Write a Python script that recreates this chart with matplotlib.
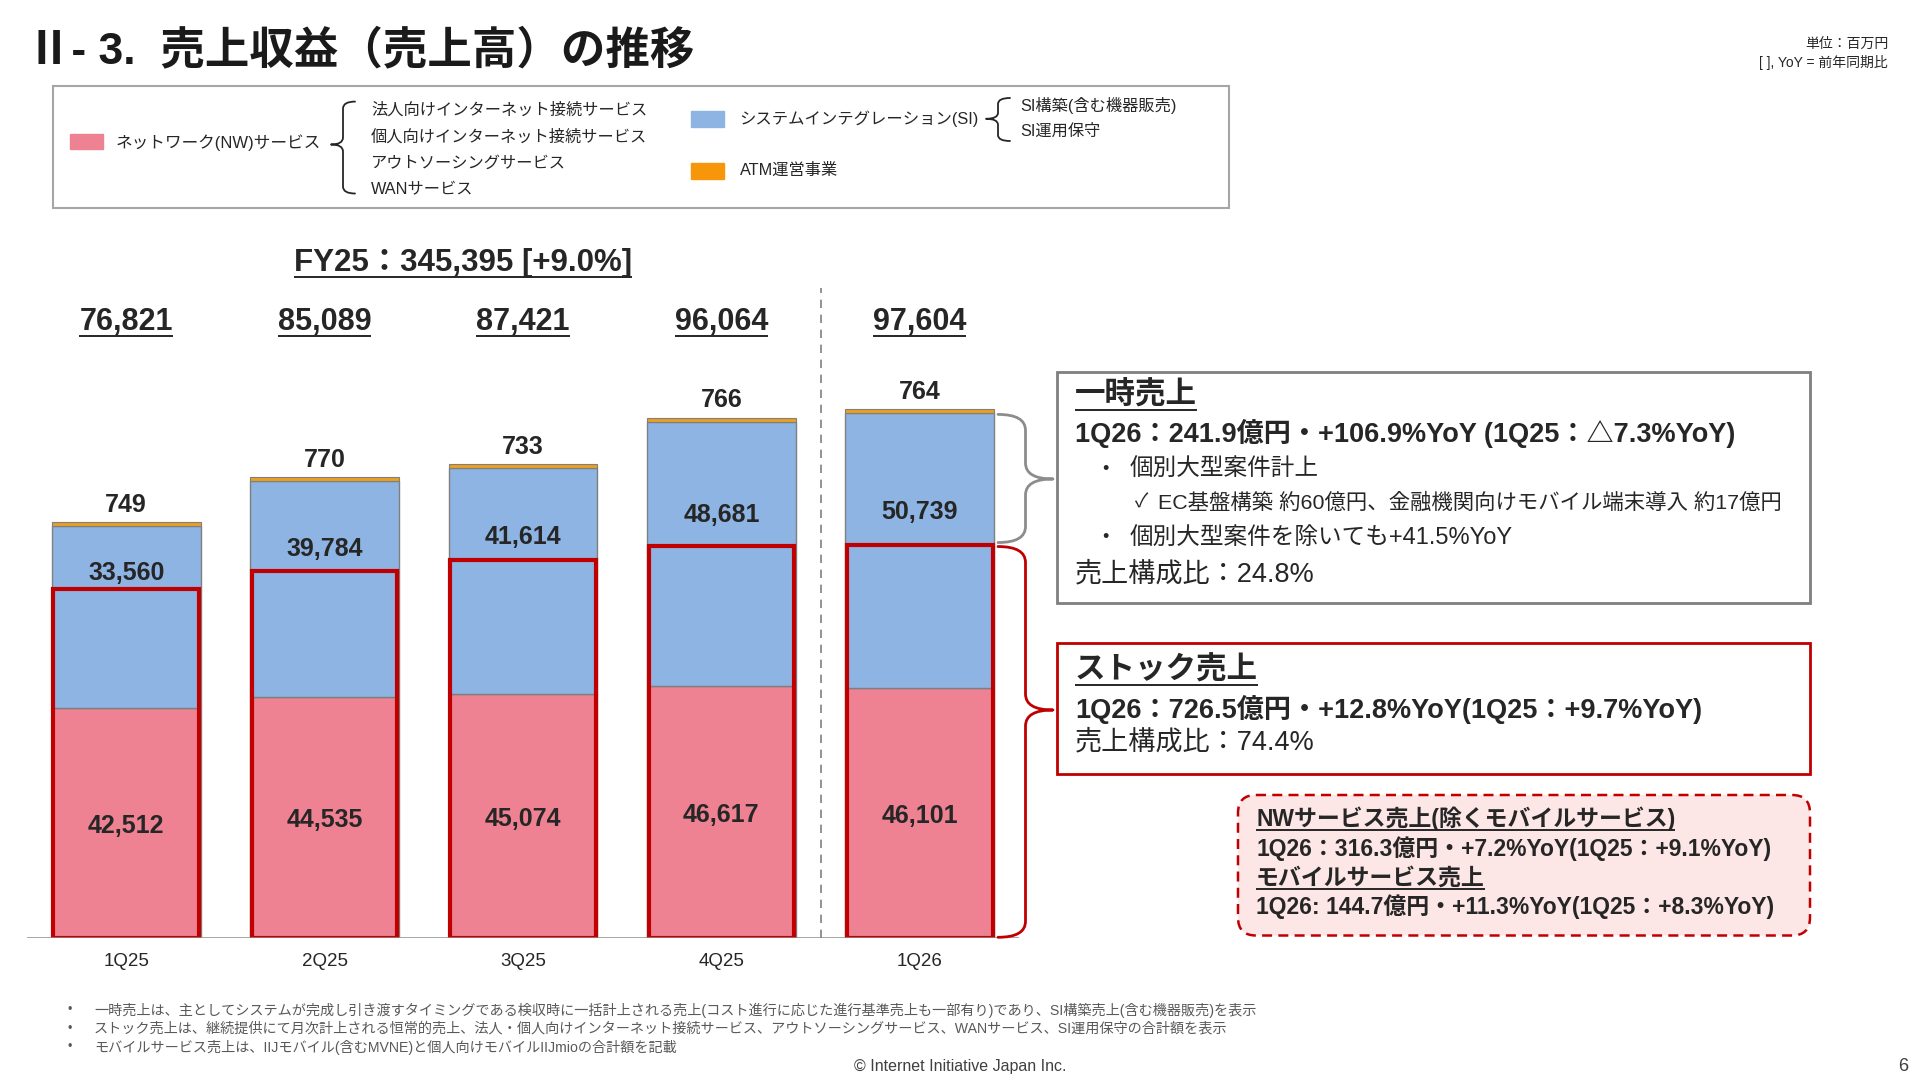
import matplotlib
matplotlib.use('Agg')
import matplotlib.pyplot as plt
from matplotlib.patches import Rectangle, FancyBboxPatch, PathPatch
from matplotlib.path import Path
from matplotlib.transforms import blended_transform_factory

plt.rcParams['font.family'] = ['Liberation Sans', 'Noto Sans CJK JP', 'DejaVu Sans']

# ---------------- data ----------------
quarters = ['1Q25', '2Q25', '3Q25', '4Q25', '1Q26']
nw = [42512, 44535, 45074, 46617, 46101]
si = [33560, 39784, 41614, 48681, 50739]
atm = [749, 770, 733, 766, 764]
totals = [76821, 85089, 87421, 96064, 97604]
stock = [64400, 67700, 69800, 72450, 72650]   # red-framed stock revenue
fy25_label = 'FY25：345,395 [+9.0%]'

title = 'Ⅱ- 3.  売上収益（売上高）の推移'
unit_lines = ['単位：百万円', '[ ], YoY = 前年同期比']
nw_legend = 'ネットワーク(NW)サービス'
nw_items = ['法人向けインターネット接続サービス', '個人向けインターネット接続サービス',
            'アウトソーシングサービス', 'WANサービス']
si_legend = 'システムインテグレーション(SI)'
si_items = ['SI構築(含む機器販売)', 'SI運用保守']
atm_legend = 'ATM運営事業'

box1_title = '一時売上'
box1_main = '1Q26：241.9億円・+106.9%YoY (1Q25：△7.3%YoY)'
box1_b1 = '個別大型案件計上'
box1_check = 'EC基盤構築 約60億円、金融機関向けモバイル端末導入 約17億円'
box1_b2 = '個別大型案件を除いても+41.5%YoY'
box1_ratio = '売上構成比：24.8%'

box2_title = 'ストック売上'
box2_main = '1Q26：726.5億円・+12.8%YoY(1Q25：+9.7%YoY)'
box2_ratio = '売上構成比：74.4%'

box3_lines = ['NWサービス売上(除くモバイルサービス)',
              '1Q26：316.3億円・+7.2%YoY(1Q25：+9.1%YoY)',
              'モバイルサービス売上',
              '1Q26: 144.7億円・+11.3%YoY(1Q25：+8.3%YoY)']

footnotes = ['一時売上は、主としてシステムが完成し引き渡すタイミングである検収時に一括計上される売上(コスト進行に応じた進行基準売上も一部有り)であり、SI構築売上(含む機器販売)を表示',
             'ストック売上は、継続提供にて月次計上される恒常的売上、法人・個人向けインターネット接続サービス、アウトソーシングサービス、WANサービス、SI運用保守の合計額を表示',
             'モバイルサービス売上は、IIJモバイル(含むMVNE)と個人向けモバイルIIJmioの合計額を記載']
copyright_txt = '© Internet Initiative Japan Inc.'
page_no = '6'

# ---------------- style ----------------
PINK = '#EE8293'
BLUE = '#8EB4E3'
ORANGE_BAR = '#EBA020'
ORANGE = '#F7960B'
EDGE = '#7F7F7F'
RED = '#C00000'
TXT = '#262626'

W, H = 1920, 1081
fig = plt.figure(figsize=(19.2, 10.81), dpi=100)

ax_left, ax_right, ax_top, ax_bot = 27, 1019, 250, 938.3
units_per_px = 184.5
ax = fig.add_axes([ax_left / W, 1 - ax_bot / H, (ax_right - ax_left) / W, (ax_bot - ax_top) / H])
ax.set_xlim(-0.5, 4.5)
ax.set_ylim(0, (ax_bot - ax_top) * units_per_px)
ax.axis('off')

ov = fig.add_axes([0, 0, 1, 1], zorder=5)
ov.set_xlim(0, W)
ov.set_ylim(H, 0)
ov.axis('off')

underlines = []


def otext(x, y, s, size, bold=False, color=TXT, ha='left', va='center', underline=False, **kw):
    t = ov.text(x, y, s, fontsize=size, fontweight='bold' if bold else 'normal',
                color=color, ha=ha, va=va, **kw)
    if underline:
        underlines.append((t, color))
    return t


# ---------------- bars ----------------
xs = list(range(len(quarters)))
bw = 0.75
ax.bar(xs, nw, bw, color=PINK, edgecolor=EDGE, linewidth=1, zorder=2)
ax.bar(xs, si, bw, bottom=nw, color=BLUE, edgecolor=EDGE, linewidth=1, zorder=2)
bot2 = [a + b for a, b in zip(nw, si)]
ax.bar(xs, atm, bw, bottom=bot2, color=ORANGE_BAR, edgecolor=EDGE, linewidth=0.8, zorder=2)

for i in xs:
    ax.add_patch(Rectangle((i - bw / 2 + 0.008, 0), bw - 0.016, stock[i], fill=False,
                           edgecolor=RED, linewidth=3.0, zorder=3))

ax.axhline(0, color='#8C8C8C', linewidth=1.8, zorder=4)
ax.plot([3.5, 3.5], [0, (ax_bot - 288) * units_per_px], ls=(0, (5, 4)), color='#808080',
        linewidth=1.2, zorder=1)

tr_tot = blended_transform_factory(ax.transData, ax.transAxes)
for i in xs:
    t = ax.text(i, (ax_bot - 322) / (ax_bot - ax_top), f'{totals[i]:,}', transform=tr_tot,
                ha='center', va='center', fontsize=22, fontweight='bold', color=TXT)
    underlines.append((t, TXT))
    ax.annotate(f'{nw[i]:,}', xy=(i, nw[i] / 2), xytext=(0, -2), textcoords='offset points',
                ha='center', va='center', fontsize=18, fontweight='bold', color=TXT, zorder=5)
    ax.text(i, stock[i] + 0.25 * (bot2[i] - stock[i]), f'{si[i]:,}', ha='center', va='center',
            fontsize=18, fontweight='bold', color=TXT, zorder=5)
    ax.annotate(f'{atm[i]:,}', xy=(i, totals[i]), xytext=(0, 12.5), textcoords='offset points',
                ha='center', va='center', fontsize=18, fontweight='bold', color=TXT)
    ax.annotate(quarters[i], xy=(i, 0), xytext=(0, -16.5), textcoords='offset points',
                ha='center', va='center', fontsize=13.5, color=TXT)

otext(463, 263, fy25_label, 22.5, bold=True, ha='center', underline=True)

# ---------------- title ----------------
otext(27, 51, title, 32, bold=True, color='#1a1a1a')
otext(1888, 44, unit_lines[0], 10, ha='right')
otext(1888, 62.5, unit_lines[1], 10, ha='right')


# ---------------- braces ----------------
def brace(x0, xt, yt, yb, ym, color, lw, r=12):
    xm = (x0 + xt) / 2
    verts = [(x0, yt), (xm, yt), (xm, yt + r),
             (xm, ym - r),
             (xm, ym), (xt, ym),
             (xm, ym), (xm, ym + r),
             (xm, yb - r),
             (xm, yb), (x0, yb)]
    codes = [Path.MOVETO, Path.CURVE3, Path.CURVE3,
             Path.LINETO,
             Path.CURVE3, Path.CURVE3,
             Path.CURVE3, Path.CURVE3,
             Path.LINETO,
             Path.CURVE3, Path.CURVE3]
    ov.add_patch(PathPatch(Path(verts, codes), fill=False, edgecolor=color, linewidth=lw,
                           capstyle='round', joinstyle='round'))


def to_ov(x, y):
    disp = ax.transData.transform((x, y))
    return ov.transData.inverted().transform(disp)


_, y_si_top = to_ov(4, bot2[4])
_, y_stock = to_ov(4, stock[4])
_, y_base = to_ov(4, 0)
brace(998, 1053, y_si_top + 1, y_stock - 2, (y_si_top + y_stock) / 2, '#8C8C8C', 2.0, r=16)
brace(998, 1053, y_stock + 2, y_base - 1, 710, RED, 2.0, r=16)

# ---------------- legend ----------------
ov.add_patch(Rectangle((52.7, 85.7), 1176.3, 122.3, fill=False, edgecolor='#A6A6A6', linewidth=1.5))
ov.add_patch(Rectangle((70, 133.5), 33, 15.5, color=PINK))
otext(116, 143, nw_legend, 12)
brace(355, 331, 101.6, 193.5, 144.5, TXT, 1.3, r=7)
for k, yy in enumerate([110, 137, 163, 190]):
    otext(371, yy, nw_items[k], 11.7)
ov.add_patch(Rectangle((690.6, 111.4), 33, 15.9, color=BLUE))
otext(739.6, 118.8, si_legend, 11.8)
brace(1010, 986, 98, 141, 118.8, TXT, 1.3, r=6)
otext(1020, 105.3, si_items[0], 11.7)
otext(1020, 131, si_items[1], 11.7)
ov.add_patch(Rectangle((690.6, 162.9), 33, 15.9, color=ORANGE))
otext(739.6, 170, atm_legend, 11.7)

# ---------------- right boxes ----------------
ov.add_patch(Rectangle((1056.7, 372), 753, 230.5, fill=False, edgecolor='#7F7F7F', linewidth=2.0))
otext(1075, 395.5, box1_title, 22, bold=True, underline=True)
otext(1075, 433.5, box1_main, 19.5, bold=True)
otext(1105.6, 469, '•', 13, ha='center')
otext(1130, 469, box1_b1, 17)
otext(1135, 503, '✓', 14)
otext(1158, 503, box1_check, 15.4)
otext(1105.6, 537.5, '•', 13, ha='center')
otext(1130, 537.5, box1_b2, 17)
otext(1075, 574, box1_ratio, 19.5)

ov.add_patch(Rectangle((1056.7, 643), 753, 131, fill=False, edgecolor=RED, linewidth=2.0))
otext(1075, 671, box2_title, 22, bold=True, underline=True)
otext(1075, 709, box2_main, 19.5, bold=True)
otext(1075, 742, box2_ratio, 19.5)

ov.add_patch(FancyBboxPatch((1238, 795), 572, 140.5, boxstyle='round,pad=0,rounding_size=18',
                            facecolor='#FCE6E6', edgecolor=RED, linewidth=1.8, linestyle=(0, (4, 2.5))))
for k, yy in enumerate([819, 848.6, 878, 907]):
    otext(1256, yy, box3_lines[k], 16.5, bold=True, underline=(k % 2 == 0))

# ---------------- footnotes ----------------
for k, yy in enumerate([1010, 1028.6, 1047]):
    otext(67, yy, '•', 9, color='#595959')
    otext(94, yy, footnotes[k], 10.2, color='#595959')
otext(960, 1066.5, copyright_txt, 11.5, ha='center', color='#404040')
otext(1908, 1066.5, page_no, 13, ha='right', color='#404040')

# ---------------- underlines ----------------
fig.canvas.draw()
renderer = fig.canvas.get_renderer()
inv = ov.transData.inverted()
for t, c in underlines:
    bb = t.get_window_extent(renderer)
    (x0, y0), (x1, _) = inv.transform([(bb.x0, bb.y0), (bb.x1, bb.y0)])
    ov.plot([x0, x1], [y0 - 1, y0 - 1], color=c, linewidth=1.4, solid_capstyle='butt')

fig.savefig('out.png', dpi=100)
